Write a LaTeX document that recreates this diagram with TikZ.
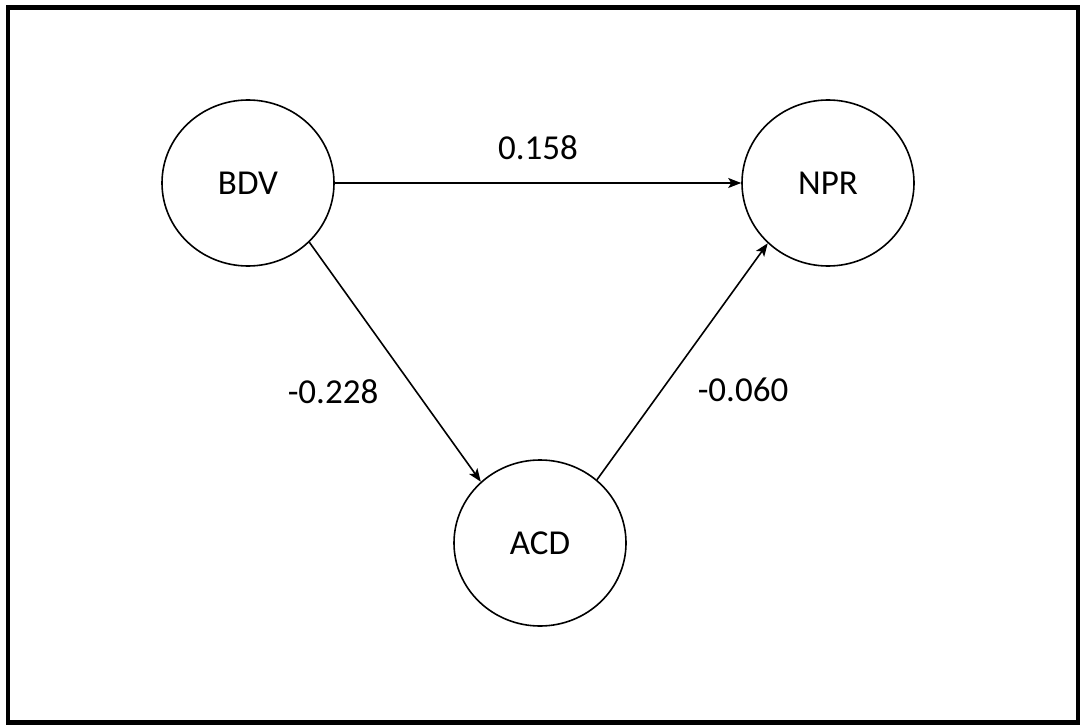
\documentclass[tikz,border=0pt]{standalone}
\usepackage{fontspec}
\setmainfont{Carlito}
\usetikzlibrary{arrows.meta,shapes.geometric}

\begin{document}
\begin{tikzpicture}[x=1pt,y=-1pt,
    var/.style={ellipse,draw,line width=1.6pt,minimum width=172pt,minimum height=166pt,inner sep=0pt,font=\fontsize{35}{42}\selectfont},
    coef/.style={font=\fontsize{35}{42}\selectfont,inner sep=0pt},
    path/.style={line width=1.6pt,-{Stealth[length=13pt,width=10pt,inset=3pt]}}]
    \useasboundingbox (0,0) rectangle (1083,727);
    \draw[line width=4.5pt] (8,7.5) rectangle (1078,722.5);
    \node[var] (bdv) at (248,183) {BDV};
    \node[var] (npr) at (828,183) {NPR};
    \node[var] (acd) at (540,543) {ACD};
    \draw[path] (bdv) -- (npr) node[coef,pos=0.5,yshift=35pt] (b1) {0.158};
    \draw[path] (bdv.-44) -- (acd.134);
    \draw[path] (acd.48) -- (npr.-135);
    \node[coef] (b2) at (333,392) {-0.228};
    \node[coef] (b3) at (743,390) {-0.060};
\end{tikzpicture}
\end{document}
